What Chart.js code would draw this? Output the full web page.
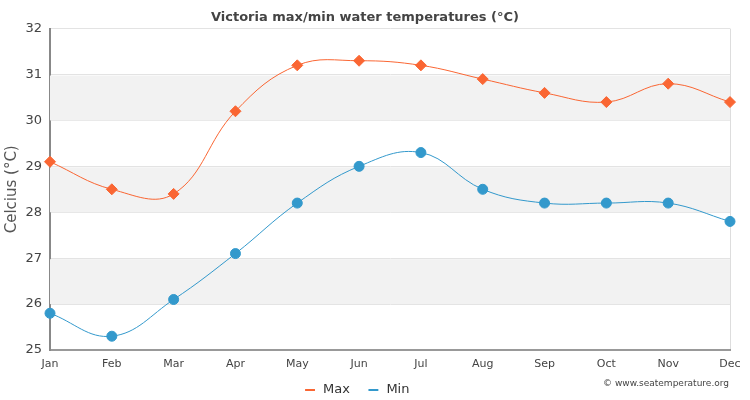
<!DOCTYPE html>
<html>
<head>
<meta charset="utf-8">
<script src="https://cdn.jsdelivr.net/npm/chart.js@4"></script>
<style>
  html, body { margin: 0; padding: 0; background: #fff; }
  #wrap { width: 750px; height: 400px; }
</style>
</head>
<body>
<div id="wrap"><canvas id="tempChart" width="750" height="400"></canvas></div>
<script>
// Valores
const months = ['Jan', 'Feb', 'Mar', 'Apr', 'May', 'Jun', 'Jul', 'Aug', 'Sep', 'Oct', 'Nov', 'Dec'];
const maxTemps = [29.1, 28.5, 28.4, 30.2, 31.2, 31.3, 31.2, 30.9, 30.6, 30.4, 30.8, 30.4];
const minTemps = [25.8, 25.3, 26.1, 27.1, 28.2, 29.0, 29.3, 28.5, 28.2, 28.2, 28.2, 27.8];
const yTicks = [25, 26, 27, 28, 29, 30, 31, 32];
const bands = [[30, 31], [28, 29], [26, 27]];

const maxColor = '#fa6633';
const minColor = '#3399cc';
const font = "'DejaVu Sans', Verdana, sans-serif";

// faixas cinza alternadas
const bandsPlugin = {
    id: 'bands',
    beforeDatasetsDraw(chart) {
        const { ctx, chartArea, scales: { y } } = chart;
        ctx.save();
        ctx.fillStyle = '#f2f2f2';
        bands.forEach(([lo, hi]) => {
            const top = y.getPixelForValue(hi);
            const bottom = y.getPixelForValue(lo);
            ctx.fillRect(chartArea.left, top + 1, chartArea.right - chartArea.left, bottom - top - 1);
        });
        ctx.restore();
    }
};

// legenda um pouco mais para a esquerda e para cima, como no original
const legendShift = {
    id: 'legendShift',
    beforeDraw(chart) {
        const lg = chart.legend;
        lg.left = -17;
        lg.top = 366.5;
    }
};

const creditPlugin = {
    id: 'credit',
    afterDraw(chart) {
        const { ctx } = chart;
        ctx.save();
        ctx.font = '9px ' + font;
        ctx.fillStyle = '#444';
        ctx.textAlign = 'right';
        ctx.textBaseline = 'middle';
        ctx.fillText('© www.seatemperature.org', 729, 384);
        ctx.restore();
    }
};

new Chart(document.getElementById('tempChart').getContext('2d'), {
    type: 'line',
    data: {
        labels: months,
        datasets: [{
            label: 'Max',
            data: maxTemps,
            borderColor: maxColor,
            backgroundColor: maxColor,
            borderWidth: 1,
            tension: 0.4,
            pointStyle: 'rectRot',
            pointRadius: 5.5,
            pointHoverRadius: 6
        }, {
            label: 'Min',
            data: minTemps,
            borderColor: minColor,
            backgroundColor: minColor,
            borderWidth: 1,
            tension: 0.4,
            pointStyle: 'circle',
            pointRadius: 5,
            pointHoverRadius: 6
        }]
    },
    options: {
        responsive: false,
        animation: false,
        layout: { padding: { left: 0, right: 20, top: 0, bottom: 0 } },
        plugins: {
            title: {
                display: true,
                text: 'Victoria max/min water temperatures (°C)',
                color: '#444',
                font: { family: font, size: 13, weight: 'bold' },
                padding: { top: 10, bottom: 3 }
            },
            legend: {
                position: 'bottom',
                maxHeight: 28,
                labels: {
                    usePointStyle: true,
                    boxWidth: 13,
                    boxHeight: 7,
                    color: '#333',
                    padding: 17,
                    font: { family: font, size: 13 },
                    generateLabels: (chart) => chart.data.datasets.map((ds, i) => ({
                        text: ds.label,
                        datasetIndex: i,
                        pointStyle: 'line',
                        strokeStyle: ds.borderColor,
                        fillStyle: ds.borderColor,
                        lineWidth: 2,
                        fontColor: '#333',
                        hidden: false
                    }))
                }
            },
            tooltip: { enabled: false }
        },
        scales: {
            x: {
                grid: {
                    drawTicks: false,
                    color: (c) => c.index === months.length - 1 ? '#dddddd' : 'rgba(0,0,0,0)'
                },
                border: { color: '#999', width: 2 },
                ticks: {
                    color: '#444',
                    padding: 8,
                    maxRotation: 0,
                    autoSkip: false,
                    font: { family: font, size: 11 }
                },
                afterFit: (s) => { s.height = 22; }
            },
            y: {
                min: 25,
                max: 32,
                afterBuildTicks: (s) => { s.ticks = yTicks.map(v => ({ value: v })); },
                grid: { drawTicks: false, color: '#e3e3e3' },
                border: { color: '#888', width: 2 },
                ticks: {
                    color: '#444',
                    padding: 8,
                    font: { family: font, size: 13 }
                },
                title: {
                    display: true,
                    text: 'Celcius (°C)',
                    color: '#555',
                    padding: { top: 3, bottom: 0 },
                    font: { family: font, size: 15 }
                },
                afterFit: (s) => { s.width = 50; }
            }
        }
    },
    plugins: [bandsPlugin, legendShift, creditPlugin]
});
</script>
</body>
</html>
